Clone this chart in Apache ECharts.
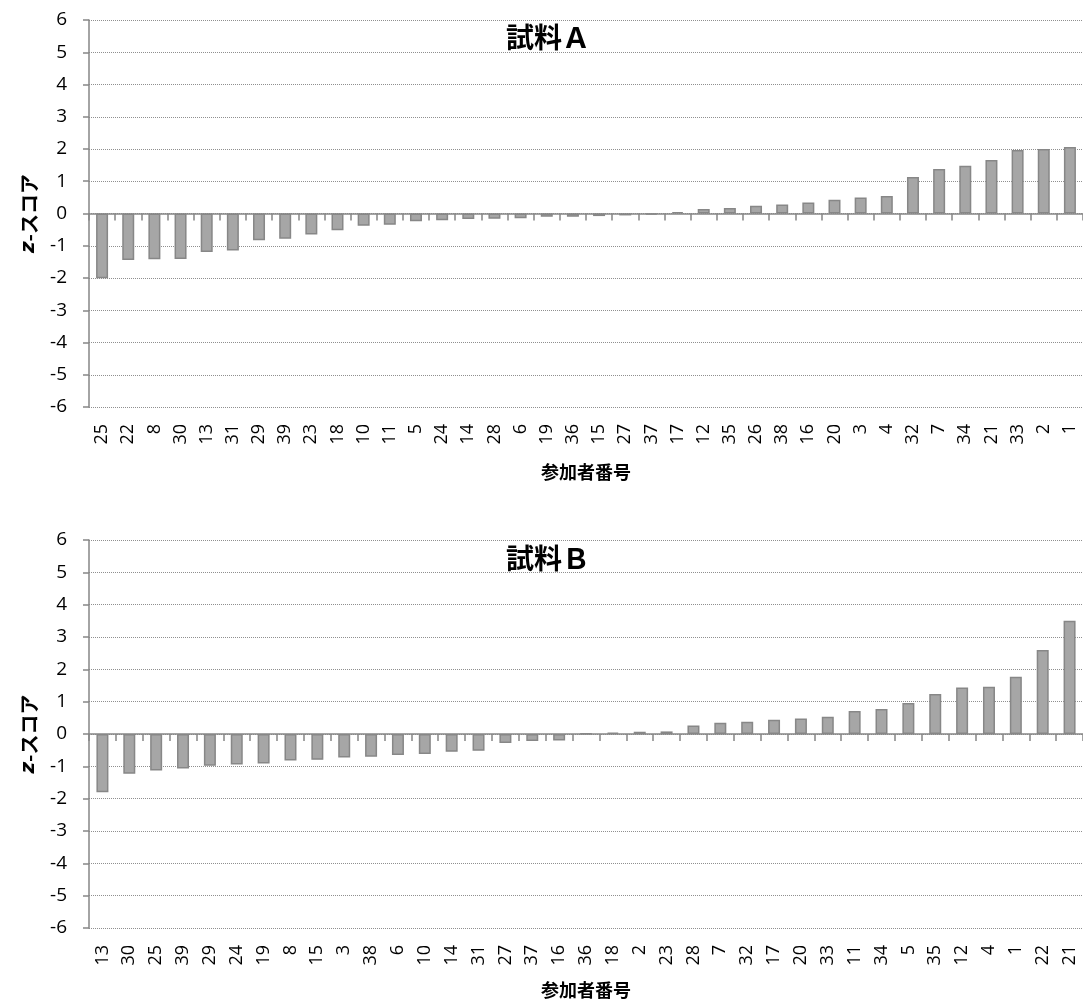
<!DOCTYPE html>
<html>
<head>
<meta charset="utf-8">
<script src="https://cdn.jsdelivr.net/npm/echarts@6/dist/echarts.min.js"></script>
<style>html,body{margin:0;padding:0;background:#fff}#c{width:1083px;height:1001px}</style>
</head>
<body>
<div id="c"></div>
<script>
// Sample A (試料Ａ)
const catsA = ['25','22','8','30','13','31','29','39','23','18','10','11','5','24','14','28','6','19','36','15','27','37','17','12','35','26','38','16','20','3','4','32','7','34','21','33','2','1'];
const valsA = [-2.01,-1.44,-1.42,-1.41,-1.19,-1.15,-0.83,-0.78,-0.65,-0.52,-0.38,-0.35,-0.24,-0.21,-0.17,-0.16,-0.15,-0.10,-0.10,-0.08,-0.06,-0.03,0.04,0.14,0.17,0.24,0.28,0.34,0.43,0.50,0.54,1.13,1.38,1.48,1.66,1.97,2.00,2.06];
// Sample B (試料Ｂ)
const catsB = ['13','30','25','39','29','24','19','8','15','3','38','6','10','14','31','27','37','16','36','18','2','23','28','7','32','17','20','33','11','34','5','35','12','4','1','22','21'];
const valsB = [-1.80,-1.23,-1.13,-1.07,-0.98,-0.94,-0.91,-0.82,-0.80,-0.73,-0.70,-0.65,-0.62,-0.55,-0.52,-0.28,-0.22,-0.20,0.01,0.04,0.07,0.08,0.26,0.35,0.38,0.44,0.48,0.53,0.71,0.77,0.96,1.24,1.44,1.46,1.77,2.60,3.50];
const titles = ['試料Ａ','試料Ｂ'];
const yName = '{i|z}-スコア';
const xName = '参加者番号';
const yMin = -6, yMax = 6, yStep = 1;

const AX = '#868686';
const LATIN = '"Open Sans", "Noto Sans", sans-serif';
const CJK = '"Noto Sans CJK JP", sans-serif';

const chart = echarts.init(document.getElementById('c'), null, {renderer: 'canvas'});

const grids = [
  {left: 89, top: 20, width: 996, height: 387},
  {left: 89, top: 540, width: 996, height: 388}
];
const cats = [catsA, catsB];
const vals = [valsA, valsB];
const nameGaps = [56, 53];

const xAxes = [], yAxes = [], series = [], titleArr = [];
for (let g = 0; g < 2; g++) {
  xAxes.push({
    type: 'category', gridIndex: g, data: cats[g], position: 'bottom',
    axisLine: {show: true, onZero: true, lineStyle: {color: AX, width: 1.5}},
    axisTick: {show: true, length: 7, interval: 0, lineStyle: {color: AX, width: 1.5}},
    axisLabel: {show: false}, splitLine: {show: false}
  });
  xAxes.push({
    type: 'category', gridIndex: g, data: cats[g], position: 'bottom',
    axisLine: {show: false, onZero: false}, axisTick: {show: false}, splitLine: {show: false},
    axisLabel: {show: true, interval: 0, rotate: 90, margin: 17, color: '#000', fontSize: 18, fontFamily: LATIN},
    name: xName, nameLocation: 'middle', nameGap: nameGaps[g], nameMoveOverlap: false,
    nameTextStyle: {fontSize: 18, fontWeight: 'bold', fontFamily: CJK, color: '#000'}
  });
  yAxes.push({
    type: 'value', gridIndex: g, min: yMin, max: yMax, interval: yStep,
    axisLine: {show: true, lineStyle: {color: AX, width: 1.5}},
    axisTick: {show: true, length: 6, lineStyle: {color: AX, width: 1.5}},
    axisLabel: {margin: 22, color: '#000', fontSize: 19, fontFamily: LATIN},
    splitLine: {show: true, lineStyle: {color: '#8f8f8f', type: 'dotted', width: 1}},
    name: yName, nameLocation: 'middle', nameGap: 50, nameMoveOverlap: false,
    nameTextStyle: {fontSize: 20, fontWeight: 'bold', fontFamily: CJK, color: '#000',
      rich: {i: {fontSize: 20, fontWeight: 'bold', fontStyle: 'italic', fontFamily: '"DejaVu Sans", sans-serif', color: '#000'}}}
  });
  series.push({
    type: 'bar', xAxisIndex: g * 2, yAxisIndex: g, data: vals[g], barWidth: 12,
    itemStyle: {color: '#a6a6a6', borderColor: '#878787', borderWidth: 1.5},
    silent: true, animation: false
  });
  titleArr.push({
    text: titles[g], left: 543, top: g === 0 ? 18 : 539, textAlign: 'center',
    textStyle: {fontSize: 28, fontWeight: 'bold', fontFamily: CJK, color: '#000'}
  });
}

chart.setOption({
  animation: false,
  title: titleArr,
  grid: grids,
  xAxis: xAxes,
  yAxis: yAxes,
  series: series
});
</script>
</body>
</html>
